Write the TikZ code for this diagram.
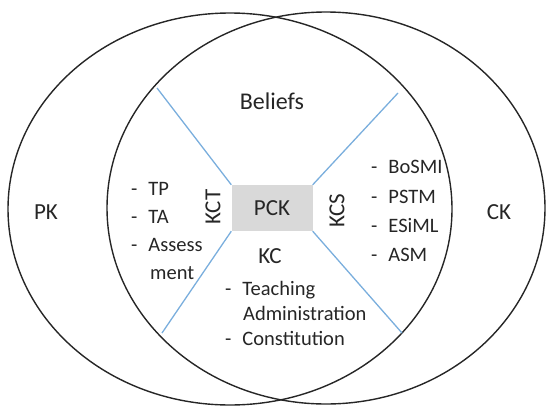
\documentclass[tikz,border=0pt]{standalone}
\usepackage{fontspec}
\setmainfont{Carlito}
\usepackage{tikz}
\definecolor{setline}{HTML}{262626}
\definecolor{splitblue}{HTML}{7AAEDD}
\definecolor{corefill}{HTML}{D9D9D9}

\begin{document}
\begin{tikzpicture}[
		x=1pt,y=-1pt,
		every node/.style={inner sep=0pt,text=setline},
		setlabel/.style={font=\fontsize{23}{27}\selectfont},
		listitem/.style={anchor=base west,font=\fontsize{20.5}{24}\selectfont},
		core/.style={fill=corefill,minimum width=81pt,minimum height=46pt,
			font=\fontsize{23}{27}\selectfont},
		split/.style={splitblue,line width=1.3pt}
		]
		\useasboundingbox (0,0) rectangle (549,407);

		% the two knowledge sets
		\draw[setline,line width=1.4pt] (230,209) ellipse [x radius=222pt,y radius=196pt];
		\draw[setline,line width=1.4pt] (326,208) ellipse [x radius=219pt,y radius=196pt];

		\node[core] (pck) at (272,208) {PCK};

		\coordinate (tl) at (157,88);
		\coordinate (tr) at (398,93);
		\coordinate (bl) at (162,333);
		\coordinate (br) at (402,333);

		\draw[split] (pck.north west) -- (tl);
		\draw[split] (pck.north east) -- (tr);
		\draw[split] (pck.south west) -- (bl);
		\draw[split] (pck.south east) -- (br);

		\node[setlabel] (pk) at (46,212) {PK};
		\node[setlabel] (ck) at (499,212) {CK};
		\node[setlabel,font=\fontsize{24}{28}\selectfont] (beliefs) at (272,101) {Beliefs};
		\node[setlabel,rotate=90] (kct) at (213,207) {KCT};
		\node[setlabel,rotate=90] (kcs) at (337,211) {KCS};
		\node[setlabel] (kc) at (270,256) {KC};

		% KCT items
		\node[listitem] (tp) at (131,195) {-\hspace{11pt}TP};
		\node[listitem] (ta) at (131,223) {-\hspace{11pt}TA};
		\node[listitem] (assess) at (131,251) {-\hspace{11pt}Assess};
		\node[listitem] (ment) at (150,279) {ment};

		% KCS items
		\node[listitem] (bosmi) at (371,173) {-\hspace{11pt}BoSMI};
		\node[listitem] (pstm) at (371,203) {-\hspace{11pt}PSTM};
		\node[listitem] (esiml) at (371,232) {-\hspace{11pt}ESiML};
		\node[listitem] (asm) at (371,261) {-\hspace{11pt}ASM};

		% KC items
		\node[listitem] (teach) at (225,295) {-\hspace{11pt}Teaching};
		\node[listitem] (admin) at (243,320) {Administration};
		\node[listitem] (const) at (225,345) {-\hspace{11pt}Constitution};
	\end{tikzpicture}
\end{document}
